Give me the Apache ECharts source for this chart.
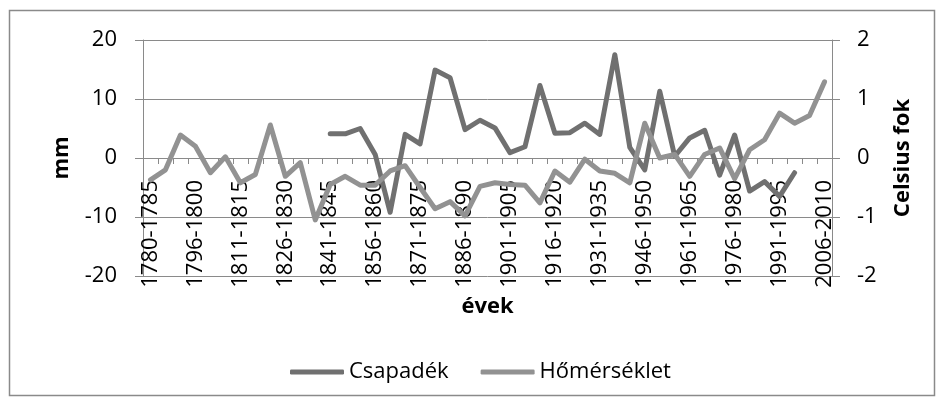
<!DOCTYPE html>
<html>
<head>
<meta charset="utf-8">
<script src="https://cdn.jsdelivr.net/npm/echarts@6.0.0/dist/echarts.min.js"></script>
<style>
  html, body { margin: 0; padding: 0; background: #fff; }
  #chart { width: 944px; height: 405px; }
</style>
</head>
<body>
<div id="chart"></div>
<script>
var periods = ['1780-1785', '1786-1790', '1791-1795', '1796-1800', '1801-1805', '1806-1810',
  '1811-1815', '1816-1820', '1821-1825', '1826-1830', '1831-1835', '1836-1840',
  '1841-1845', '1846-1850', '1851-1855', '1856-1860', '1861-1865', '1866-1870',
  '1871-1875', '1876-1880', '1881-1885', '1886-1890', '1891-1895', '1896-1900',
  '1901-1905', '1906-1910', '1911-1915', '1916-1920', '1921-1925', '1926-1930',
  '1931-1935', '1936-1940', '1941-1945', '1946-1950', '1951-1955', '1956-1960',
  '1961-1965', '1966-1970', '1971-1975', '1976-1980', '1981-1985', '1986-1990',
  '1991-1995', '1996-2000', '2001-2005', '2006-2010'];

// csapadek (mm), no data before 1841 and after 2000
var csapadek = [null, null, null, null, null, null, null, null, null, null, null, null,
  4.1, 4.1, 5.0, 0.6, -9.2, 4.0, 2.4, 14.9, 13.6, 4.8, 6.4, 5.1,
  0.9, 1.9, 12.3, 4.2, 4.3, 5.9, 4.0, 17.5, 1.8, -2.0, 11.3, 0.3,
  3.4, 4.7, -2.9, 3.9, -5.6, -4.0, -6.5, -2.5, null, null];

// homerseklet (Celsius)
var homerseklet = [-0.37, -0.20, 0.39, 0.20, -0.25, 0.02, -0.42, -0.28, 0.56, -0.31, -0.08, -1.05,
  -0.45, -0.31, -0.46, -0.46, -0.22, -0.13, -0.50, -0.86, -0.74, -0.98, -0.48, -0.42,
  -0.45, -0.46, -0.76, -0.22, -0.41, -0.02, -0.22, -0.26, -0.42, 0.59, 0.00, 0.06,
  -0.31, 0.06, 0.17, -0.35, 0.14, 0.31, 0.76, 0.59, 0.72, 1.29];

var fontName = 'Open Sans';
var gridColor = '#8a8a8a';

var chart = echarts.init(document.getElementById('chart'));

chart.setOption({
  animation: false,
  textStyle: { fontFamily: fontName },
  graphic: [{
    type: 'rect',
    shape: { x: 9.5, y: 10.5, width: 925, height: 385 },
    style: { fill: 'none', stroke: gridColor, lineWidth: 1.5 },
    silent: true
  }],
  grid: { left: 143, right: 112, top: 40, bottom: 129, containLabel: false, outerBoundsMode: 'none' },
  legend: {
    left: 290,
    top: 361,
    padding: 0,
    icon: 'roundRect',
    itemWidth: 54,
    itemHeight: 5,
    itemGap: 32,
    textStyle: { fontFamily: fontName, fontSize: 22, color: '#000' },
    data: ['Csapadék', 'Hőmérséklet']
  },
  xAxis: {
    type: 'category',
    data: periods,
    boundaryGap: true,
    // x axis crosses the left axis at 0 (grid is 236px high, 0 is 118px above the bottom)
    offset: -118,
    name: 'évek',
    nameLocation: 'middle',
    nameGap: 132,
    nameTextStyle: { fontFamily: fontName, fontSize: 22, fontWeight: 'bold', color: '#000' },
    axisLine: { onZero: false, lineStyle: { color: gridColor, width: 1 } },
    axisTick: { show: true, interval: 0, length: 6, lineStyle: { color: gridColor } },
    axisLabel: {
      interval: 2,
      rotate: 90,
      margin: 22,
      fontFamily: fontName,
      fontSize: 22,
      color: '#000'
    },
    splitLine: { show: false }
  },
  yAxis: [{
    type: 'value',
    min: -20,
    max: 20,
    interval: 10,
    name: 'mm',
    nameLocation: 'middle',
    nameGap: 70,
    nameRotate: 90,
    nameTextStyle: { fontFamily: fontName, fontSize: 22, fontWeight: 'bold', color: '#000' },
    axisLine: { show: true, lineStyle: { color: gridColor } },
    axisTick: { show: true, length: 8, lineStyle: { color: gridColor } },
    axisLabel: { margin: 26, fontFamily: fontName, fontSize: 22, color: '#000' },
    splitLine: { show: true, lineStyle: { color: gridColor, width: 1 } }
  }, {
    type: 'value',
    position: 'right',
    min: -2,
    max: 2,
    interval: 1,
    name: 'Celsius fok',
    nameLocation: 'middle',
    nameGap: 60,
    nameRotate: 90,
    nameTextStyle: { fontFamily: fontName, fontSize: 22, fontWeight: 'bold', color: '#000' },
    axisLine: { show: true, lineStyle: { color: gridColor } },
    axisTick: { show: true, length: 8, lineStyle: { color: gridColor } },
    axisLabel: { margin: 25, fontFamily: fontName, fontSize: 22, color: '#000' },
    splitLine: { show: false }
  }],
  series: [{
    name: 'Csapadék',
    type: 'line',
    yAxisIndex: 0,
    data: csapadek,
    symbol: 'none',
    connectNulls: false,
    itemStyle: { color: '#707070' },
    lineStyle: { color: '#707070', width: 5, cap: 'round', join: 'round' },
    zlevel: 1,
    z: 3
  }, {
    name: 'Hőmérséklet',
    type: 'line',
    yAxisIndex: 1,
    data: homerseklet,
    symbol: 'none',
    itemStyle: { color: '#929292' },
    lineStyle: { color: '#929292', width: 5, cap: 'round', join: 'round' },
    zlevel: 1,
    z: 4
  }]
});
</script>
</body>
</html>
